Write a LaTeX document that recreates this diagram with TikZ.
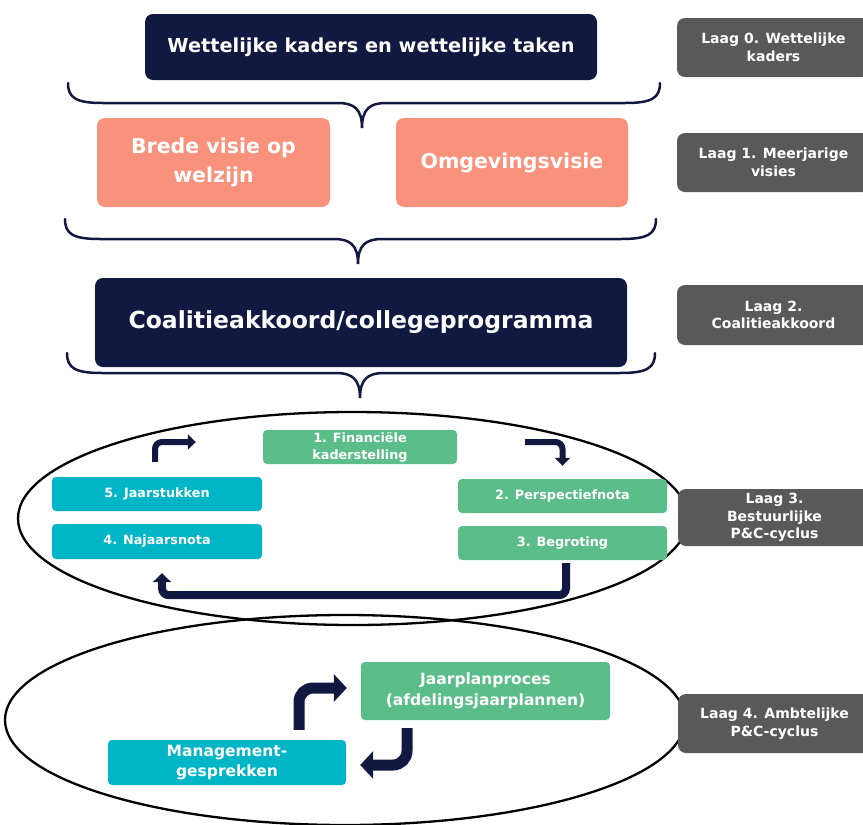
\documentclass[tikz,border=0pt]{standalone}
\usepackage{fontspec}
\setsansfont{DejaVu Sans}
\usetikzlibrary{calc, arrows.meta}
\definecolor{navy}{HTML}{111940}
\definecolor{salmon}{HTML}{F8927C}
\definecolor{pcgreen}{HTML}{5BBD89}
\definecolor{pcteal}{HTML}{00B5C6}
\definecolor{laaggray}{HTML}{595959}
\begin{document}
\begin{tikzpicture}[x=1pt, y=-1pt,
    box/.style={rounded corners=8pt, inner sep=2pt, align=center, text=white, font=\sffamily\bfseries},
    navybox/.style={box, fill=navy},
    visiebox/.style={box, fill=salmon, minimum width=233, minimum height=89, font=\sffamily\bfseries\fontsize{20.5}{29}\selectfont},
    pcbox/.style={box, rounded corners=4pt, minimum width=209, minimum height=34, font=\sffamily\bfseries\fontsize{12.8}{17}\selectfont},
    laag/.style={box, fill=laaggray, minimum width=193, minimum height=59, font=\sffamily\bfseries\fontsize{14}{17.5}\selectfont},
    ring/.style={draw=black, line width=2.3pt},
    bracepath/.style={draw=navy, line width=2.5pt, line cap=round},
    cyc/.style={draw=navy, line width=6pt, rounded corners=7pt, -{Triangle[length=8pt, width=15pt]}},
    cycbig/.style={draw=navy, line width=11pt, rounded corners=14pt, -{Triangle[length=13pt, width=27pt]}}]
    \useasboundingbox (0,0) rectangle (863,825);
    \fill[white] (0,0) rectangle (863,825);

    % Rings of layer 3 and 4
    \draw[ring] (353,518.5) ellipse [x radius=335, y radius=106.5];
    \draw[ring] (345,720) ellipse [x radius=340, y radius=105];

    % Braces between the layers
    \foreach \xl/\xr/\yt/\xm in {68/660/83/362, 65/656/219/358, 67/655/353/360} {
        \draw[bracepath] (\xl,\yt) .. controls (\xl,\yt+15) and (\xl+8,\yt+20) .. (\xl+35,\yt+20)
            -- (\xm-24,\yt+20) .. controls (\xm-8,\yt+20) and (\xm,\yt+26) .. (\xm,\yt+45)
            .. controls (\xm,\yt+26) and (\xm+8,\yt+20) .. (\xm+24,\yt+20)
            -- (\xr-35,\yt+20) .. controls (\xr-8,\yt+20) and (\xr,\yt+15) .. (\xr,\yt);
    }

    % Layer 0 - 2
    \node[navybox, minimum width=452, minimum height=66, font=\sffamily\bfseries\fontsize{19.3}{23}\selectfont] (wet) at (371,47) {Wettelijke kaders en wettelijke taken};
    \node[visiebox] (brede) at (213.5,162.5) {Brede visie op\\welzijn};
    \node[visiebox, minimum width=232] (omg) at (512,162.5) {Omgevingsvisie};
    \node[navybox, minimum width=532, minimum height=89, font=\sffamily\bfseries\fontsize{23.5}{28}\selectfont] (coal) at (361,322.5) {Coalitieakkoord/collegeprogramma};

    % Layer 3 - bestuurlijke cyclus
    \node[pcbox, fill=pcgreen, minimum width=194] (fin) at (360,447) {1. Financiële\\kaderstelling};
    \node[pcbox, fill=pcgreen] (persp) at (562.5,496) {2. Perspectiefnota};
    \node[pcbox, fill=pcgreen] (begr) at (562.5,543) {3. Begroting};
    \node[pcbox, fill=pcteal, minimum width=210, minimum height=35] (naj) at (157,541.5) {4. Najaarsnota};
    \node[pcbox, fill=pcteal, minimum width=210] (jaar) at (157,494) {5. Jaarstukken};
    \draw[cyc] ($(jaar.north)+(-2,-15)$) |- ($(fin.west)+(-67,-5)$);
    \draw[cyc] ($(fin.east)+(68,-5)$) -| ($(persp.north)+(0,-13)$);
    \draw[cyc, line width=8pt, -{Triangle[length=9pt, width=18pt]}] ($(begr.south)+(3.5,3)$) -- ++(0,32) -| ($(naj.south)+(5,14)$);

    % Layer 4 - ambtelijke cyclus
    \node[pcbox, fill=pcgreen, minimum width=249, minimum height=58, font=\sffamily\bfseries\fontsize{15.5}{21}\selectfont] (plan) at (485.5,691) {Jaarplanproces\\(afdelingsjaarplannen)};
    \node[pcbox, fill=pcteal, minimum width=238, minimum height=45, font=\sffamily\bfseries\fontsize{15.5}{20}\selectfont] (mgmt) at (227,762.5) {Management-\\gesprekken};
    \draw[cycbig] ($(mgmt.north)+(72,-10)$) |- ($(plan.west)+(-14,-3)$);
    \draw[cycbig] ($(plan.south)+(-78.5,8)$) |- ($(mgmt.east)+(14,2.5)$);

    % Layer labels
    \node[laag] (laag0) at (773.5,47.5) {Laag 0. Wettelijke\\kaders};
    \node[laag] (laag1) at (773.5,162.5) {Laag 1. Meerjarige\\visies};
    \node[laag, minimum height=60] (laag2) at (773.5,315) {Laag 2.\\Coalitieakkoord};
    \node[laag, minimum height=57] (laag3) at (774.5,517.5) {Laag 3.\\Bestuurlijke\\P\&C-cyclus};
    \node[laag] (laag4) at (774.5,723.5) {Laag 4. Ambtelijke\\P\&C-cyclus};
\end{tikzpicture}
\end{document}
